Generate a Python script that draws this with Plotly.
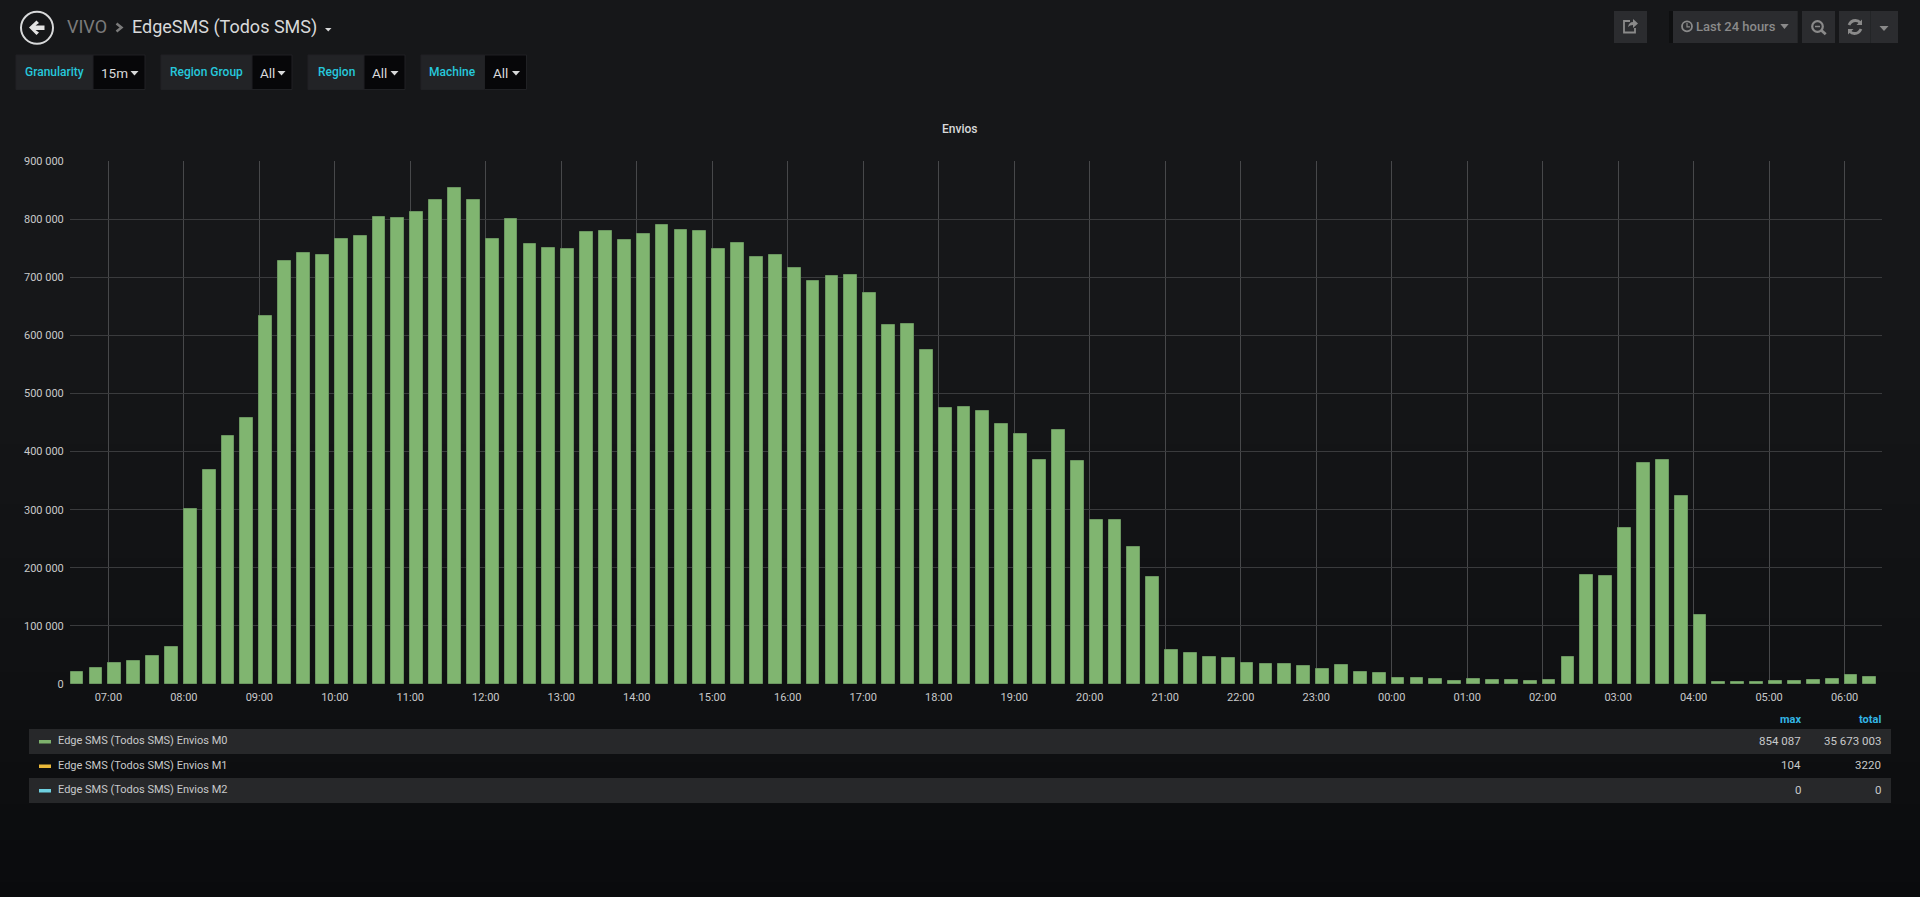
import re
import pandas as pd
import plotly.graph_objects as go

W, H = 1920, 897

# 15 minute buckets, 06:30 to 06:15 next day
start_time = "2018-06-11 06:30"
bar_ms = 610000
envios_m0 = [
    21200, 27000, 36100, 40200, 48800, 64200,
    301700, 367700, 426200, 458300,
    633800, 727300, 741100, 737700,
    765200, 770900, 804200, 801300,
    811600, 832300, 854087, 833400,
    766300, 799600, 756600, 750900,
    748000, 777200, 780100, 763500,
    773800, 789300, 781200, 780100,
    749100, 758300, 735400, 738800,
    716400, 692900, 702700, 703800,
    672800, 617200, 618900, 575300,
    474400, 477200, 470400, 447400,
    430800, 386000, 436500, 383200,
    282200, 282200, 235200, 184700,
    59100, 53300, 46500, 44700,
    36700, 35000, 33800, 31000,
    25800, 32100, 20100, 18400,
    10300, 10900, 8000, 5200,
    8000, 6300, 6300, 5200,
    6900, 47000, 188100, 185300,
    267900, 380900, 385500, 322900,
    118700, 2900, 2900, 4000,
    4600, 5700, 6300, 8000,
    14900, 11500,
]
y_ticks = [0, 100000, 200000, 300000, 400000, 500000, 600000, 700000, 800000, 900000]

legend_names = ["Edge SMS (Todos SMS) Envios M0", "Edge SMS (Todos SMS) Envios M1", "Edge SMS (Todos SMS) Envios M2"]
legend_colors = ["#7eb26d", "#eab839", "#6ed0e0"]
legend_max = ["854 087", "104", "0"]
legend_total = ["35 673 003", "3220", "0"]

variables = [("Granularity", "15m"), ("Region Group", "All"), ("Region", "All"), ("Machine", "All")]
var_boxes = [(16, 93, 145), (161, 252, 292), (308, 364, 405), (421, 484.5, 526.5)]

bg_stops = [(0, (22, 23, 25)), (300, (22, 23, 25)), (700, (15, 16, 18)), (897, (10, 11, 13))]


def px(x):
    return x / W


def py(y):
    return 1 - y / H


def px_path(path):
    # turn "M x y L x y" in screen pixels into paper coords
    out, is_x = [], True
    for tok in re.findall(r"[A-Za-z]|-?[\d.]+", path):
        if tok.isalpha():
            out.append(tok)
            is_x = True
        else:
            out.append(str(round(px(float(tok)) if is_x else py(float(tok)), 6)))
            is_x = not is_x
    return " ".join(out)


shapes = []
annotations = []


def rect(x0, y0, x1, y1, fill, line=None):
    shapes.append(dict(type="rect", xref="paper", yref="paper", x0=px(x0), x1=px(x1), y0=py(y0), y1=py(y1),
                       fillcolor=fill, line=dict(width=1 if line else 0, color=line or fill), layer="below"))


def poly(path, fill=None, stroke=None, width=1):
    shapes.append(dict(type="path", xref="paper", yref="paper", path=px_path(path),
                       fillcolor=fill or "rgba(0,0,0,0)",
                       line=dict(width=width if stroke else 0, color=stroke or "rgba(0,0,0,0)"), layer="below"))


def circle(cx, cy, r, stroke, width=2):
    shapes.append(dict(type="circle", xref="paper", yref="paper", x0=px(cx - r), x1=px(cx + r),
                       y0=py(cy + r), y1=py(cy - r), line=dict(width=width, color=stroke), layer="below"))


def caret(x0, x1, y0, y1, color):
    poly(f"M {x0} {y0} L {x1} {y0} L {(x0 + x1) / 2} {y1} Z", fill=color)


def label(x, y, text, color, size, anchor="left", weight=400):
    annotations.append(dict(xref="paper", yref="paper", x=px(x), y=py(y), text=text, showarrow=False,
                            xanchor=anchor, yanchor="middle", borderpad=0, borderwidth=0,
                            font=dict(family="Roboto", size=size, color=color, weight=weight)))


# page background, top to bottom fade
step = 6
for y in range(0, H, step):
    for (y0, c0), (y1, c1) in zip(bg_stops, bg_stops[1:]):
        if y0 <= y <= y1:
            t = (y - y0) / (y1 - y0)
            c = [round(a + (b - a) * t) for a, b in zip(c0, c1)]
            rect(0, y, W, y + step, f"rgb({c[0]},{c[1]},{c[2]})")
            break

# header
circle(37, 27.8, 16, "#d8d9da")
poly("M 29 27.5 L 36.5 20.5 L 39 23 L 35.5 25.5 L 44.5 25.5 L 44.5 30 L 35.5 30 L 39 32.5 L 36.5 35 Z", fill="#e3e3e3")
label(67, 27, "VIVO", "#7b7b7b", 18)
poly("M 116.5 23.5 L 121.5 27.5 L 116.5 31.5", stroke="#7b7b7b", width=2.5)
label(132, 27, "EdgeSMS (Todos SMS)", "#d8d9da", 18)
caret(325, 331.5, 28, 31.5, "#d8d9da")

# template variables
for (name, value), (x0, x1, x2) in zip(variables, var_boxes):
    rect(x0, 55, x1, 89.5, "#222326", "#202124")
    rect(x1, 55, x2, 89.5, "#070709", "#202124")
    label((x0 + x1) / 2, 72.5, name, "#26c8dc", 12, anchor="center", weight=500)
    label(x1 + 8, 73, value, "#d8d9da", 13.5)
    caret(x2 - 14.5, x2 - 6.5, 71, 75.5, "#d8d9da")

# toolbar
btn = "#2b2c2f"
ico = "#8a8a8a"
rect(1669, 11, 1673, 43, "#0e0f10")
rect(1614, 11, 1647, 43, btn)
rect(1673, 11, 1797.7, 43, btn)
rect(1802, 11, 1835, 43, btn)
rect(1839, 11, 1898, 43, btn)
rect(1870.5, 11, 1871, 43, "#1d1e20")
poly("M 1630 21 L 1624 21 L 1624 32.5 L 1635 32.5 L 1635 28", stroke=ico, width=1.8)
poly("M 1628 27 Q 1629 22 1633 22 L 1633 19 L 1638 23.5 L 1633 28 L 1633 25 Q 1630 25 1628 27 Z", fill=ico)
circle(1687, 26.3, 5, ico, 1.8)
poly("M 1687 23 L 1687 26.8 L 1690 26.8", stroke=ico, width=1.2)
label(1695.7, 27, "Last 24 hours", ico, 13, weight=500)
caret(1780.3, 1788.7, 24, 29, ico)
circle(1817.5, 26.5, 5.3, ico, 2.2)
poly("M 1821.5 30.5 L 1825.7 34.3", stroke=ico, width=2.8)
poly("M 1815 26.5 L 1820 26.5", stroke=ico, width=1.5)
poly("M 1849 25 Q 1851 20.5 1855.5 20.5 Q 1858.5 20.5 1860 22.5", stroke=ico, width=2.8)
poly("M 1862 19.5 L 1862 25 L 1856.5 25 Z", fill=ico)
poly("M 1861 29 Q 1859 33.5 1854.5 33.5 Q 1851.5 33.5 1850 31.5", stroke=ico, width=2.8)
poly("M 1848 34.5 L 1848 29 L 1853.5 29 Z", fill=ico)
caret(1879.5, 1888.5, 26, 31, ico)

# panel title
label(959, 129, "Envios", "#d8d9da", 12, anchor="center", weight=500)

# legend table
label(1801, 719, "max", "#33b5e5", 11, anchor="right", weight=700)
label(1881, 719, "total", "#33b5e5", 11, anchor="right", weight=700)
row_tops = [729, 754, 778]
row_bottoms = [754, 778, 803]
for i in range(3):
    if i != 1:
        rect(29, row_tops[i], 1891, row_bottoms[i], "#27282a")
    mid = (row_tops[i] + row_bottoms[i]) / 2
    rect(39, mid - 1.5, 51, mid + 2, legend_colors[i])
    label(58, mid - 1, legend_names[i], "#c8c9ca", 11)
    label(1801, mid - 1, legend_max[i], "#c8c9ca", 11.5, anchor="right")
    label(1881, mid - 1, legend_total[i], "#c8c9ca", 11.5, anchor="right")

times = pd.date_range(start_time, periods=len(envios_m0), freq="15min")

fig = go.Figure()
fig.add_trace(go.Bar(
    x=times,
    y=envios_m0,
    width=bar_ms,
    offset=0,
    marker=dict(color="#80b570", line=dict(color="#6b9660", width=1)),
    name=legend_names[0],
    hoverinfo="x+y",
))

fig.update_layout(
    width=W,
    height=H,
    margin=dict(l=0, r=0, t=0, b=0),
    autosize=False,
    showlegend=False,
    paper_bgcolor="#161719",
    plot_bgcolor="rgba(0,0,0,0)",
    separators=". ",
    shapes=shapes,
    annotations=annotations,
    bargap=0,
    xaxis=dict(
        automargin=False,
        domain=[70 / W, 1881.7 / W],
        type="date",
        range=[times[0] - pd.Timedelta(seconds=30), times[0] + pd.Timedelta(hours=24) - pd.Timedelta(seconds=30)],
        tick0="2018-06-11 07:00",
        dtick=3600000,
        tickformat="%H:%M",
        tickfont=dict(family="Roboto", size=11, color="#c8c9ca"),
        ticklabelstandoff=5,
        showgrid=True,
        gridcolor="#47484a",
        gridwidth=1,
        zeroline=False,
        showline=False,
        ticks="",
    ),
    yaxis=dict(
        automargin=False,
        domain=[1 - 684 / H, 1 - 161 / H],
        range=[0, 900000],
        tickvals=y_ticks,
        tickformat=",d",
        tickfont=dict(family="Roboto", size=11, color="#c8c9ca"),
        showgrid=True,
        gridcolor="#3a3b3d",
        gridwidth=1,
        zeroline=False,
        showline=False,
        ticks="outside",
        ticklen=3,
        tickcolor="rgba(0,0,0,0)",
    ),
)

fig.write_html(
    "out.html",
    config={"displayModeBar": False},
    post_script="document.body.style.margin='0';document.body.style.overflow='hidden';",
)
